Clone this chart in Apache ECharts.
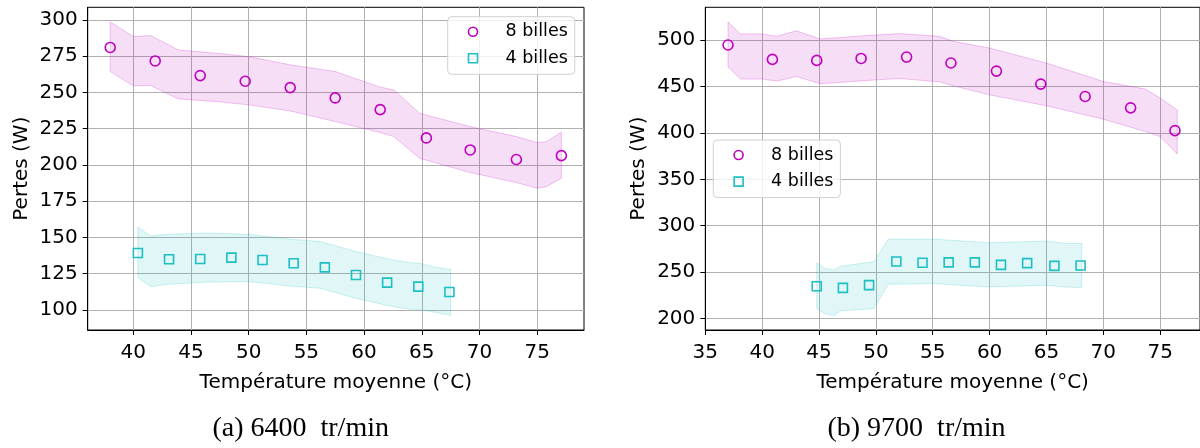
<!DOCTYPE html>
<html>
<head>
<meta charset="utf-8">
<script src="https://cdn.jsdelivr.net/npm/echarts@6/dist/echarts.min.js"></script>
<style>
  html, body { margin: 0; padding: 0; background: #ffffff; }
  #chart { width: 1200px; height: 448px; }
</style>
</head>
<body>
<div id="chart"></div>
<script>
// ---- (a) 6400 tr/min ----
const tempA8 = [38.0, 41.9, 45.8, 49.7, 53.6, 57.5, 61.4, 65.4, 69.2, 73.2, 77.1];
const lossA8 = [281.0, 271.7, 261.6, 257.7, 253.3, 246.2, 238.1, 218.6, 210.3, 203.7, 206.4];
const tempA4 = [40.4, 43.1, 45.8, 48.5, 51.2, 53.9, 56.6, 59.3, 62.0, 64.7, 67.4];
const lossA4 = [139.2, 134.9, 135.1, 136.0, 134.4, 132.1, 129.3, 124.0, 118.8, 116.0, 112.3];

// uncertainty envelopes (temperature, lower, upper)
const bandA8T  = [38.0, 40.0, 41.5, 43.9, 47.2, 50.0, 53.6, 57.5, 61.4, 62.6, 64.8, 69.2, 73.2, 75.0, 75.8, 77.1];
const bandA8Lo = [264.4, 254.5, 254.8, 245.5, 243.7, 241.4, 237.2, 229.9, 222.3, 219.5, 204.6, 194.7, 187.8, 183.9, 185.0, 190.8];
const bandA8Hi = [298.6, 288.5, 289.2, 279.3, 277.0, 274.7, 269.0, 264.4, 253.6, 251.7, 235.6, 226.4, 219.5, 215.4, 216.0, 222.5];

const bandA4T  = [40.4, 41.5, 42.9, 46.4, 50.0, 53.6, 56.2, 59.1, 62.2, 64.0, 64.8, 66.3, 67.5];
const bandA4Lo = [122.2, 116.0, 117.6, 119.2, 119.5, 116.4, 114.9, 108.4, 102.7, 100.4, 100.3, 98.1, 96.2];
const bandA4Hi = [157.1, 150.9, 152.1, 153.0, 152.1, 148.7, 147.1, 140.6, 134.9, 132.5, 132.1, 129.1, 128.0];

// ---- (b) 9700 tr/min ----
const tempB8 = [37.0, 40.9, 44.8, 48.7, 52.7, 56.6, 60.6, 64.5, 68.4, 72.4, 76.3];
const lossB8 = [494.7, 479.2, 478.1, 480.2, 481.7, 475.3, 466.6, 452.6, 439.2, 427.0, 402.5];
const tempB4 = [44.8, 47.1, 49.4, 51.8, 54.1, 56.4, 58.7, 61.0, 63.3, 65.7, 68.0];
const lossB4 = [234.9, 233.1, 236.0, 261.5, 260.1, 260.5, 260.5, 257.9, 259.7, 256.8, 257.2];

const bandB8T  = [37.0, 38.1, 40.0, 41.3, 43.0, 45.1, 49.2, 52.1, 55.6, 56.8, 60.0, 65.0, 70.0, 73.7, 75.0, 76.5];
const bandB8Lo = [471.0, 458.0, 458.0, 455.8, 460.8, 452.9, 456.5, 458.6, 455.0, 450.8, 441.0, 429.2, 414.8, 401.4, 396.0, 377.3];
const bandB8Hi = [519.5, 506.6, 506.6, 504.0, 510.0, 501.2, 504.8, 507.0, 504.0, 498.6, 491.4, 475.2, 455.4, 447.2, 437.5, 424.8];

const bandB4T  = [44.8, 45.5, 46.3, 46.9, 49.8, 51.1, 55.0, 60.0, 65.0, 66.7, 68.1];
const bandB4Lo = [210.8, 205.4, 203.5, 208.2, 210.8, 237.0, 237.7, 234.1, 235.9, 234.0, 233.4];
const bandB4Hi = [260.0, 254.0, 252.2, 256.5, 261.1, 285.6, 285.6, 281.7, 283.5, 281.0, 281.0];

// tick values
const xTicksA = [40, 45, 50, 55, 60, 65, 70, 75];
const yTicksA = [100, 125, 150, 175, 200, 225, 250, 275, 300];
const xTicksB = [35, 40, 45, 50, 55, 60, 65, 70, 75];
const yTicksB = [200, 250, 300, 350, 400, 450, 500];

const seriesNames = ['8 billes', '4 billes'];
const xTitle = 'Température moyenne (°C)';
const yTitle = 'Pertes (W)';
const captions = ['(a) 6400  tr/min', '(b) 9700  tr/min'];

const MAGENTA = '#bf00bf';
const CYAN = '#1bbfc4';
const FONT = 'DejaVu Sans';

function xAxis(gridIndex, min, max, ticks) {
  return {
    type: 'value', gridIndex, min, max,
    name: xTitle, nameLocation: 'middle', nameGap: 43,
    nameTextStyle: { fontFamily: FONT, fontSize: 20, color: '#000' },
    axisLine: { show: true, onZero: false, lineStyle: { color: '#000', width: 1 } },
    axisTick: { show: true, length: 5, customValues: ticks, lineStyle: { color: '#000', width: 1 } },
    axisLabel: { customValues: ticks, margin: 13, fontFamily: FONT, fontSize: 20, color: '#000' },
    splitLine: { show: true, lineStyle: { color: '#b0b0b0', width: 1 } }
  };
}

function yAxis(gridIndex, min, max, ticks, gap) {
  return {
    type: 'value', gridIndex, min, max,
    name: yTitle, nameLocation: 'middle', nameGap: gap,
    nameTextStyle: { fontFamily: FONT, fontSize: 20, color: '#000' },
    axisLine: { show: true, onZero: false, lineStyle: { color: '#000', width: 1 } },
    axisTick: { show: true, length: 5, customValues: ticks, lineStyle: { color: '#000', width: 1 } },
    axisLabel: { customValues: ticks, margin: 10, fontFamily: FONT, fontSize: 20, color: '#000' },
    splitLine: { show: true, lineStyle: { color: '#b0b0b0', width: 1 } }
  };
}

// filled envelope drawn as one polygon in data coordinates
function band(axisIndex, T, lo, hi, rgb) {
  return {
    type: 'custom', xAxisIndex: axisIndex, yAxisIndex: axisIndex,
    silent: true, clip: true, z: 1,
    data: T.map((t, i) => [t, lo[i], hi[i]]),
    encode: { x: 0, y: [1, 2] },
    renderItem: (params, api) => {
      if (params.dataIndex !== 0) return null;
      const upper = T.map((t, i) => api.coord([t, hi[i]]));
      const lower = T.map((t, i) => api.coord([t, lo[i]])).reverse();
      return {
        type: 'polygon',
        shape: { points: upper.concat(lower) },
        style: { fill: 'rgba(' + rgb + ',0.13)', stroke: 'rgba(' + rgb + ',0.22)', lineWidth: 1 }
      };
    }
  };
}

function markers(axisIndex, name, T, P, symbol, size, color) {
  return {
    type: 'scatter', name, xAxisIndex: axisIndex, yAxisIndex: axisIndex,
    symbol, symbolSize: size, z: 3, silent: true,
    data: T.map((t, i) => [t, P[i]]),
    itemStyle: { color: 'rgba(0,0,0,0)', borderColor: color, borderWidth: 1.6, opacity: 1 }
  };
}

function legend(left, top) {
  return {
    orient: 'vertical', left, top,
    selectedMode: false,
    itemWidth: 9, itemHeight: 9, itemGap: 6.6,
    padding: [5, 7, 6, 20],
    backgroundColor: 'rgba(255,255,255,0.8)', borderColor: '#d0d0d0', borderWidth: 1, borderRadius: 4,
    textStyle: { fontFamily: FONT, fontSize: 17.5, color: '#000', lineHeight: 20, padding: [0, 0, 0, 23] },
    data: [
      { name: seriesNames[0], icon: 'circle', itemStyle: { color: 'rgba(0,0,0,0)', borderColor: MAGENTA, borderWidth: 1.6 } },
      { name: seriesNames[1], icon: 'rect', itemStyle: { color: 'rgba(0,0,0,0)', borderColor: CYAN, borderWidth: 1.6 } }
    ]
  };
}

const chart = echarts.init(document.getElementById('chart'), null, { renderer: 'canvas' });
chart.setOption({
  animation: false,
  backgroundColor: '#ffffff',
  grid: [
    { left: 87.7, top: 7.3, width: 496.3, height: 322.7, show: true, borderColor: '#000', borderWidth: 1, backgroundColor: 'transparent' },
    { left: 705.3, top: 7.3, width: 495.5, height: 322.7, show: true, borderColor: '#000', borderWidth: 1, backgroundColor: 'transparent' }
  ],
  xAxis: [xAxis(0, 36.05, 79.06, xTicksA), xAxis(1, 35.0, 78.5, xTicksB)],
  yAxis: [yAxis(0, 86.1, 308.7, yTicksA, 56), yAxis(1, 187.7, 535.3, yTicksB, 57)],
  legend: [legend(447.7, 16.7), legend(713.3, 140)],
  graphic: [
    { type: 'text', x: 300.7, y: 429, silent: true,
      style: { text: captions[0], fontFamily: 'Liberation Serif', fontSize: 28, fill: '#000', textAlign: 'center', textVerticalAlign: 'middle' } },
    { type: 'text', x: 916.5, y: 429, silent: true,
      style: { text: captions[1], fontFamily: 'Liberation Serif', fontSize: 28, fill: '#000', textAlign: 'center', textVerticalAlign: 'middle' } }
  ],
  series: [
    band(0, bandA8T, bandA8Lo, bandA8Hi, '191,0,191'),
    band(0, bandA4T, bandA4Lo, bandA4Hi, '27,191,196'),
    markers(0, seriesNames[0], tempA8, lossA8, 'circle', 10, MAGENTA),
    markers(0, seriesNames[1], tempA4, lossA4, 'rect', 9, CYAN),
    band(1, bandB8T, bandB8Lo, bandB8Hi, '191,0,191'),
    band(1, bandB4T, bandB4Lo, bandB4Hi, '27,191,196'),
    markers(1, seriesNames[0], tempB8, lossB8, 'circle', 10, MAGENTA),
    markers(1, seriesNames[1], tempB4, lossB4, 'rect', 9, CYAN)
  ]
});
</script>
</body>
</html>
